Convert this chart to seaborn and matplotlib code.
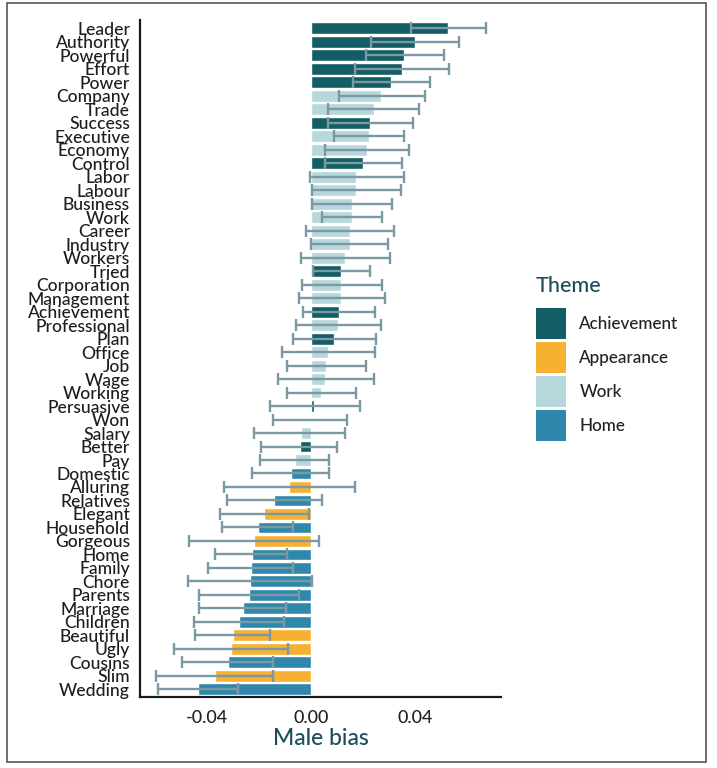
import numpy as np
import pandas as pd
import matplotlib
matplotlib.use("Agg")
import matplotlib.pyplot as plt
from matplotlib.patches import Rectangle
import seaborn as sns

words = ["Leader", "Authority", "Powerful", "Effort", "Power", "Company", "Trade",
         "Success", "Executive", "Economy", "Control", "Labor", "Labour", "Business",
         "Work", "Career", "Industry", "Workers", "Tried", "Corporation", "Management",
         "Achievement", "Professional", "Plan", "Office", "Job", "Wage", "Working",
         "Persuasive", "Won", "Salary", "Better", "Pay", "Domestic", "Alluring",
         "Relatives", "Elegant", "Household", "Gorgeous", "Home", "Family", "Chore",
         "Parents", "Marriage", "Children", "Beautiful", "Ugly", "Cousins", "Slim",
         "Wedding"]

themes = ["Achievement", "Achievement", "Achievement", "Achievement", "Achievement",
          "Work", "Work", "Achievement", "Work", "Work", "Achievement", "Work", "Work",
          "Work", "Work", "Work", "Work", "Work", "Achievement", "Work", "Work",
          "Achievement", "Work", "Achievement", "Work", "Work", "Work", "Work",
          "Achievement", "Achievement", "Work", "Achievement", "Work", "Home",
          "Appearance", "Home", "Appearance", "Home", "Appearance", "Home", "Home",
          "Home", "Home", "Home", "Home", "Appearance", "Appearance", "Home",
          "Appearance", "Home"]

bias = [0.0523, 0.0398, 0.0357, 0.0346, 0.0306, 0.0268, 0.0239, 0.0226, 0.0222,
        0.0213, 0.0198, 0.0172, 0.0172, 0.0156, 0.0156, 0.0147, 0.0147, 0.0130,
        0.0116, 0.0116, 0.0116, 0.0107, 0.0102, 0.0089, 0.0065, 0.0057, 0.0054,
        0.0038, 0.0013, -0.0001, -0.0040, -0.0042, -0.0060, -0.0078, -0.0083,
        -0.0142, -0.0179, -0.0202, -0.0217, -0.0227, -0.0231, -0.0235, -0.0239,
        -0.0262, -0.0274, -0.0300, -0.0307, -0.0318, -0.0367, -0.0434]

ci_low = [0.0382, 0.0230, 0.0211, 0.0167, 0.0162, 0.0105, 0.0066, 0.0066, 0.0087,
          0.0055, 0.0052, -0.0004, 0.0004, 0.0004, 0.0040, -0.0020, 0.0001, -0.0040,
          0.0009, -0.0034, -0.0046, -0.0032, -0.0059, -0.0068, -0.0111, -0.0094,
          -0.0125, -0.0094, -0.0159, -0.0144, -0.0217, -0.0191, -0.0195, -0.0226,
          -0.0333, -0.0320, -0.0350, -0.0339, -0.0468, -0.0366, -0.0394, -0.0472,
          -0.0429, -0.0427, -0.0447, -0.0443, -0.0526, -0.0493, -0.0592, -0.0587]

ci_high = [0.0669, 0.0565, 0.0507, 0.0526, 0.0456, 0.0435, 0.0412, 0.0389, 0.0357,
           0.0376, 0.0347, 0.0355, 0.0343, 0.0311, 0.0272, 0.0318, 0.0293, 0.0302,
           0.0227, 0.0270, 0.0281, 0.0246, 0.0267, 0.0248, 0.0245, 0.0211, 0.0239,
           0.0172, 0.0188, 0.0137, 0.0128, 0.0101, 0.0070, 0.0069, 0.0167, 0.0040,
           -0.0009, -0.0068, 0.0031, -0.0091, -0.0068, 0.0004, -0.0047, -0.0097,
           -0.0102, -0.0158, -0.0089, -0.0145, -0.0144, -0.0281]

theme_order = ["Achievement", "Appearance", "Work", "Home"]
theme_colors = ["#135d64", "#f6b132", "#b6d7db", "#2f88ab"]

df = pd.DataFrame({"word": words, "theme": themes, "bias": bias,
                   "lo": ci_low, "hi": ci_high})

sns.set_theme(style="white")
plt.rcParams["font.family"] = ["Lato", "DejaVu Sans"]

fig = plt.figure(figsize=(7.17, 7.68), dpi=100)
ax = fig.add_axes([0.195, 0.0924, 0.504, 0.882])

sns.barplot(data=df, y="word", x="bias", hue="theme", order=words,
            hue_order=theme_order, palette=dict(zip(theme_order, theme_colors)),
            dodge=False, errorbar=None, width=0.88, saturation=1, ax=ax)

pos = np.arange(len(words))
xerr = np.vstack([df["bias"] - df["lo"], df["hi"] - df["bias"]])
ax.errorbar(df["bias"], pos, xerr=xerr, fmt="none", ecolor="#7b99a2",
            elinewidth=1.7, capsize=4.2, capthick=1.7, zorder=5)

ax.set_xlim(-0.0655, 0.0727)
ax.set_ylim(len(words) - 0.43, -0.64)
ax.set_xticks([-0.04, 0.0, 0.04])
ax.set_xticklabels(["-0.04", "0.00", "0.04"])
ax.tick_params(axis="both", length=0, colors="#222222")
ax.tick_params(axis="y", labelsize=12.6, pad=7)
ax.tick_params(axis="x", labelsize=13, pad=9)
for lab in ax.get_yticklabels():
    lab.set_color("#1e1e1e")
    lab.set_fontweight("medium")
for lab in ax.get_xticklabels():
    lab.set_fontweight("medium")
ax.set_ylabel("")
ax.set_xlabel("Male bias", fontsize=16.5, color="#1d4d5a", labelpad=2,
              fontweight="medium")

for s in ["top", "right"]:
    ax.spines[s].set_visible(False)
for s in ["left", "bottom"]:
    ax.spines[s].set_color("#1a1a1a")
    ax.spines[s].set_linewidth(1.6)

leg = ax.get_legend()
if leg is not None:
    leg.remove()
handles = [Rectangle((0, 0), 1, 1, facecolor=c, edgecolor="none") for c in theme_colors]
lg = fig.legend(handles, theme_order, title="Theme", loc="upper left",
                bbox_to_anchor=(0.735, 0.652), frameon=False, borderpad=0,
                prop={"size": 12.3, "weight": "medium"},
                title_fontproperties={"size": 15.5, "weight": "medium"},
                handlelength=1.81, handleheight=2.41, labelspacing=0.18,
                handletextpad=0.76, alignment="left")
lg._legend_box.sep = 9
lg.get_title().set_color("#1d4d5a")
for t in lg.get_texts():
    t.set_color("#222222")

fig.patches.append(Rectangle((7 / 717, 6 / 768), 699 / 717, 759 / 768,
                             transform=fig.transFigure, fill=False,
                             edgecolor="#555555", linewidth=1.2))

fig.savefig("out.png", dpi=100, facecolor="white")
